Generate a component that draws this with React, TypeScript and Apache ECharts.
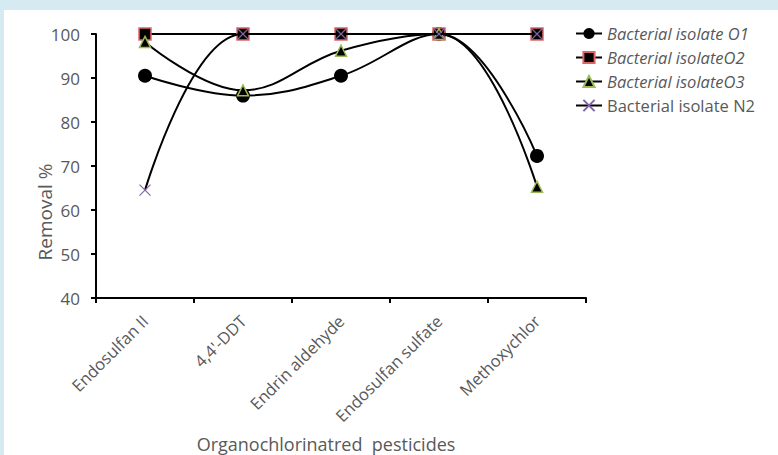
import React, { useEffect, useRef } from "react";
import * as echarts from "echarts";

const categories = ["Endosulfan II", "4,4'-DDT", "Endrin aldehyde", "Endosulfan sulfate", "Methoxychlor"];
const seriesNames = ["Bacterial isolate O1", "Bacterial isolateO2", "Bacterial isolateO3", "Bacterial isolate N2"];
const o1 = [90.5, 86, 90.5, 100, 72.3];
const o2 = [100, 100, 100, 100, 100];
const o3 = [98.2, 87.2, 96.2, 100, 65.3];
const n2 = [64.5, 100, 100, 100, 100];
const yTicks = { min: 40, max: 100, interval: 10 };

const FONT = "'Open Sans', 'Liberation Sans', sans-serif";
const GREY = "#595959";
const CROSS = "path://M0,0L10,10M10,0L0,10";

export default function App() {
  const ref = useRef<HTMLDivElement>(null);
  useEffect(() => {
    if (!ref.current) return;
    const chart = echarts.init(ref.current, undefined, { renderer: "svg" });
    const lineStyle = { color: "#000", width: 2 };
    chart.setOption({
      animation: false,
      backgroundColor: "transparent",
      grid: { left: 96, right: 192, top: 34, bottom: 157, containLabel: false },
      xAxis: {
        type: "category",
        data: categories,
        boundaryGap: true,
        axisLine: { lineStyle: { color: "#000", width: 2 } },
        axisTick: { show: true, length: 5, lineStyle: { color: "#000", width: 2 } },
        axisLabel: { rotate: 45, color: GREY, fontSize: 16.5, fontFamily: FONT, margin: 20, interval: 0 },
        splitLine: { show: false },
      },
      yAxis: {
        type: "value",
        min: yTicks.min,
        max: yTicks.max,
        interval: yTicks.interval,
        axisLine: { show: true, lineStyle: { color: "#000", width: 2 } },
        axisTick: { show: true, length: 5, lineStyle: { color: "#000", width: 2 } },
        axisLabel: { color: GREY, fontSize: 17, fontFamily: FONT, margin: 16 },
        splitLine: { show: false },
      },
      legend: {
        orient: "vertical",
        left: 575,
        top: 25,
        padding: 0,
        itemWidth: 26,
        itemHeight: 14,
        itemGap: 7,
        textStyle: { color: GREY, fontSize: 16.5, fontFamily: FONT },
        data: [
          { name: seriesNames[0], textStyle: { fontStyle: "italic" } },
          { name: seriesNames[1], textStyle: { fontStyle: "italic" } },
          { name: seriesNames[2], textStyle: { fontStyle: "italic" } },
          { name: seriesNames[3] },
        ],
      },
      graphic: [
        {
          type: "text",
          x: 45,
          y: 212,
          rotation: Math.PI / 2,
          style: {
            text: "Removal %",
            fill: GREY,
            font: `19px ${FONT}`,
            textAlign: "center",
            textVerticalAlign: "middle",
          },
        },
        {
          type: "text",
          x: 326,
          y: 444,
          style: {
            text: "Organochlorinatred  pesticides",
            fill: GREY,
            font: `18px ${FONT}`,
            textAlign: "center",
            textVerticalAlign: "middle",
          },
        },
      ],
      series: [
        {
          name: seriesNames[0],
          type: "line",
          data: o1,
          smooth: 0.4,
          symbol: "circle",
          symbolSize: 14,
          lineStyle,
          itemStyle: { color: "#000", borderColor: "#000", borderWidth: 0 },
          z: 2,
        },
        {
          name: seriesNames[1],
          type: "line",
          data: o2,
          smooth: 0.4,
          symbol: "rect",
          symbolSize: 12,
          lineStyle,
          itemStyle: { color: "#000", borderColor: "#e06666", borderWidth: 1.5 },
          z: 3,
        },
        {
          name: seriesNames[2],
          type: "line",
          data: o3,
          smooth: 0.4,
          symbol: "triangle",
          symbolSize: 11,
          lineStyle,
          itemStyle: { color: "#000", borderColor: "#9bbb59", borderWidth: 1.5 },
          z: 4,
        },
        {
          name: seriesNames[3],
          type: "line",
          data: n2,
          smooth: 0.4,
          symbol: CROSS,
          symbolSize: 11,
          lineStyle,
          itemStyle: { color: "none", borderColor: "#8064a2", borderWidth: 1.2 },
          z: 5,
        },
      ],
    });
    return () => chart.dispose();
  }, []);

  return (
    <div style={{ position: "fixed", left: 0, top: 0, width: 778, height: 455, background: "#d6ebf1" }}>
      <div style={{ position: "absolute", left: 4, top: 10, right: 0, bottom: 0, background: "#fff" }} />
      <div ref={ref} style={{ position: "absolute", left: 0, top: 0, width: 778, height: 455 }} />
    </div>
  );
}
